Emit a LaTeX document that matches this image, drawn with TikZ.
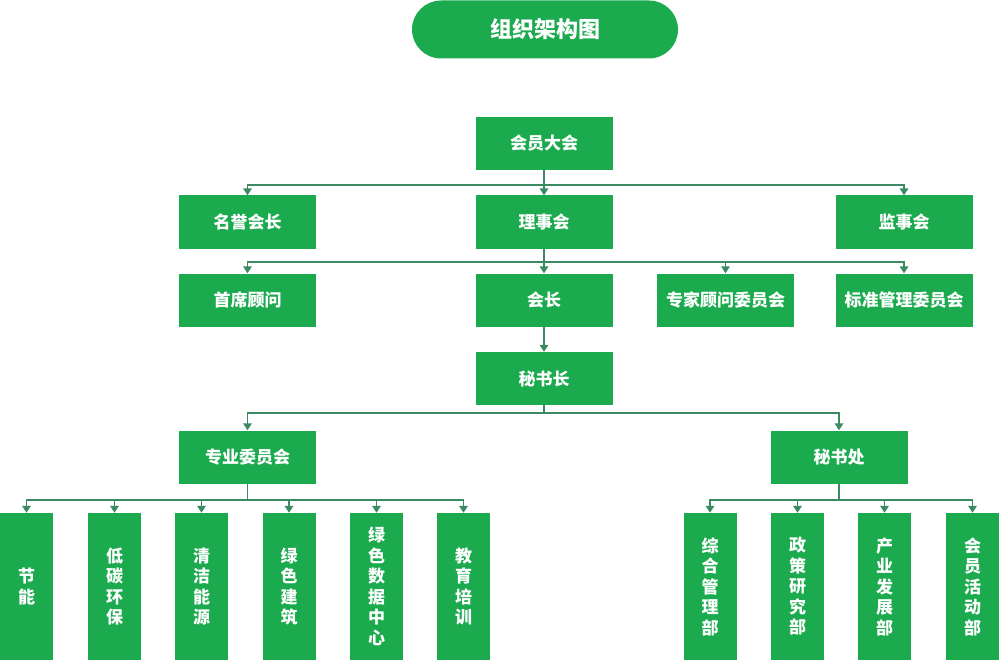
\documentclass[tikz,border=0pt]{standalone}
\usepackage{fontspec}
\newfontfamily\cjk{Noto Sans CJK SC}
\usetikzlibrary{arrows.meta,shapes.misc}
\definecolor{boxg}{RGB}{27,170,78}
\definecolor{lineg}{RGB}{58,138,98}
\tikzset{
  box/.style={fill=boxg, text=white, inner sep=0pt, minimum width=137pt, minimum height=53pt,
    font=\cjk\bfseries\fontsize{17}{20}\selectfont},
  vbox/.style={fill=boxg, text=white, inner sep=0pt, minimum width=53pt, minimum height=147pt,
    align=center, font=\cjk\bfseries\fontsize{17}{20.5}\selectfont},
  conn/.style={draw=lineg, line width=1.8pt},
  arr/.style={conn, -{Triangle[width=8.5pt,length=7pt]}},
}
\begin{document}
\begin{tikzpicture}[x=1pt,y=-1pt]
\useasboundingbox (0,0) rectangle (1000,660);
% title
\node[fill=boxg, text=white, rounded rectangle, inner sep=0pt, minimum width=266pt, minimum height=58pt,
  font=\cjk\bfseries\fontsize{22}{26}\selectfont] (title) at (545,29.5) {组织架构图};
% level boxes
\node[box] (dahui) at (544,143.5) {会员大会};
\node[box] (mingyu) at (247.5,222) {名誉会长};
\node[box] (lishi) at (544,222) {理事会};
\node[box] (jianshi) at (904,222) {监事会};
\node[box] (shouxi) at (247.5,300) {首席顾问};
\node[box] (huizhang) at (544,300) {会长};
\node[box] (zhuanjia) at (725.5,300) {专家顾问委员会};
\node[box] (biaozhun) at (904,300) {标准管理委员会};
\node[box] (mishuzhang) at (544,378.5) {秘书长};
\node[box] (zhuanye) at (247.5,457) {专业委员会};
\node[box] (mishuchu) at (839,457) {秘书处};
% bottom boxes
\node[vbox] (b1) at (26.5,586.5) {节\\能};
\node[vbox] (b2) at (114.5,586.5) {低\\碳\\环\\保};
\node[vbox] (b3) at (201.5,586.5) {清\\洁\\能\\源};
\node[vbox] (b4) at (289,586.5) {绿\\色\\建\\筑};
\node[vbox] (b5) at (376.5,586.5) {绿\\色\\数\\据\\中\\心};
\node[vbox] (b6) at (463.5,586.5) {教\\育\\培\\训};
\node[vbox] (c1) at (710,586.5) {综\\合\\管\\理\\部};
\node[vbox] (c2) at (797.5,586.5) {政\\策\\研\\究\\部};
\node[vbox] (c3) at (884.5,586.5) {产\\业\\发\\展\\部};
\node[vbox] (c4) at (972.5,586.5) {会\\员\\活\\动\\部};
% junctions
\coordinate (j1) at (544,185);
\coordinate (j2) at (544,262);
\coordinate (j3) at (544,413);
\coordinate (j4) at (247.5,500);
\coordinate (j5) at (839,500);
% connectors
\draw[arr] (dahui.south) -- (lishi.north);
\draw[arr] (j1) -| (mingyu.north);
\draw[arr] (j1) -| (jianshi.north);
\draw[arr] (lishi.south) -- (huizhang.north);
\draw[arr] (j2) -| (shouxi.north);
\draw[arr] (j2) -| (zhuanjia.north);
\draw[arr] (j2) -| (biaozhun.north);
\draw[arr] (huizhang.south) -- (mishuzhang.north);
\draw[conn] (mishuzhang.south) -- (j3);
\draw[arr] (j3) -| (zhuanye.north);
\draw[arr] (j3) -| (mishuchu.north);
\draw[conn] (zhuanye.south) -- (j4);
\foreach \n in {b1,b2,b3,b4,b5,b6} \draw[arr] (j4) -| (\n.north);
\draw[conn] (mishuchu.south) -- (j5);
\foreach \n in {c1,c2,c3,c4} \draw[arr] (j5) -| (\n.north);
\end{tikzpicture}
\end{document}
